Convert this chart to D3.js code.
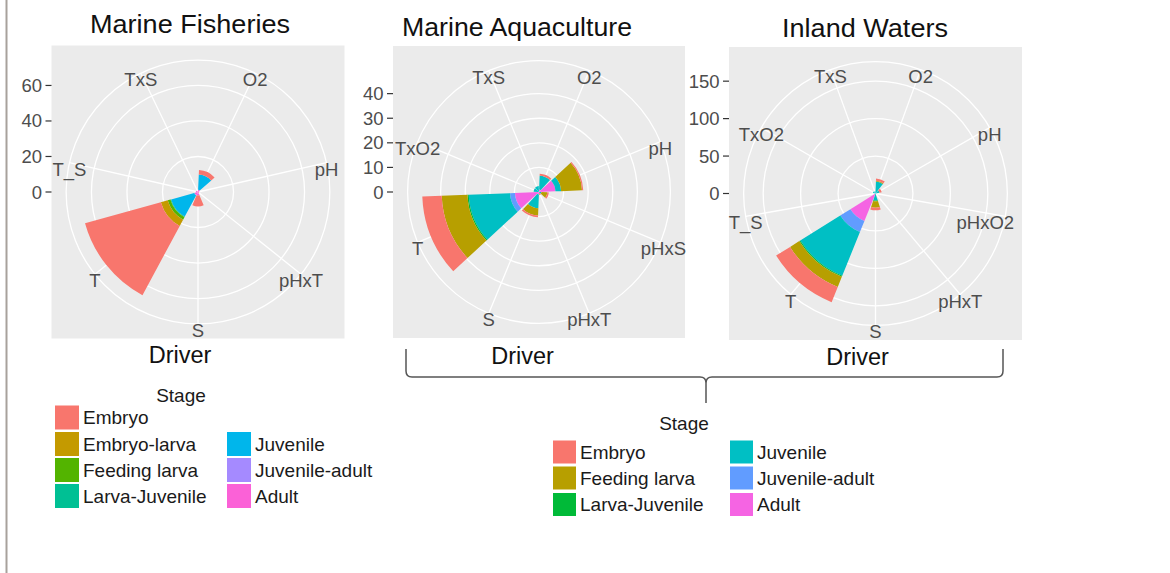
<!DOCTYPE html>
<html>
<head>
<meta charset="utf-8">
<script src="https://cdn.jsdelivr.net/npm/d3@7"></script>
<style>
  body { margin: 0; background: #ffffff; }
  svg { display: block; font-family: "Liberation Sans", Arial, Helvetica, sans-serif; }
</style>
</head>
<body>
<svg id="chart" width="1170" height="573"></svg>
<script>
// ---- life stages and their colours ----
const fisheriesStages = ["Embryo", "Embryo-larva", "Feeding larva", "Larva-Juvenile", "Juvenile", "Juvenile-adult", "Adult"];
const fisheriesColours = ["#F8766D", "#C49A00", "#53B400", "#00C094", "#00B6EB", "#A58AFF", "#FB61D7"];
const sharedStages = ["Embryo", "Feeding larva", "Larva-Juvenile", "Juvenile", "Juvenile-adult", "Adult"];
const sharedColours = ["#F8766D", "#B79F00", "#00BA38", "#00BFC4", "#619CFF", "#F564E3"];

// ---- Marine Fisheries: rows follow fisheriesStages, columns follow the drivers ----
const fisheriesDrivers = ["O2", "pH", "pHxT", "S", "T", "T_S", "TxS"];
const fisheriesValues = [
  [2.5, 0,   0.6, 6.2, 44.3, 0,   0  ],  // Embryo
  [0,   0,   0,   0,   4.0,  0,   0  ],  // Embryo-larva
  [0,   0,   0,   0,   1.6,  0,   0  ],  // Feeding larva
  [0,   0,   0,   0,   0.4,  0,   0  ],  // Larva-Juvenile
  [8.6, 0,   0,   0,   13.5, 0,   0  ],  // Juvenile
  [0,   0,   0,   0,   0.2,  0,   0  ],  // Juvenile-adult
  [1.3, 0.8, 0,   1.9, 2.0,  1.2, 0.6]   // Adult
];
const fisheriesTicks = [0, 20, 40, 60];

// ---- Marine Aquaculture: rows follow sharedStages ----
const aquacultureDrivers = ["O2", "pH", "pHxS", "pHxT", "S", "T", "TxO2", "TxS"];
const aquacultureValues = [
  [0.8, 0.5, 0.6, 0.6, 0.7, 7.9,  0,   0  ],  // Embryo
  [0,   8.5, 2.4, 0,   3.0, 10.5, 0,   0  ],  // Feeding larva
  [0,   0,   0,   0,   0,   0.5,  0,   0  ],  // Larva-Juvenile
  [5.6, 2.3, 1.0, 0.6, 5.6, 16.8, 2.2, 2.4],  // Juvenile
  [0,   0,   0,   0,   0,   2.0,  0,   0  ],  // Juvenile-adult
  [1.0, 6.7, 0,   0,   1.0, 9.8,  0,   0  ]   // Adult
];
const aquacultureTicks = [0, 10, 20, 30, 40];

// ---- Inland Waters: rows follow sharedStages ----
const inlandDrivers = ["O2", "pH", "pHxO2", "pHxT", "S", "T", "T_S", "TxO2", "TxS"];
const inlandValues = [
  [3.0,  3.0, 0, 0, 3.5, 22.0, 0, 0,   0  ],  // Embryo
  [1.2,  0,   0, 0, 8.5, 14.5, 0, 0,   0  ],  // Feeding larva
  [0,    0,   0, 0, 1.0, 1.5,  0, 0,   0  ],  // Larva-Juvenile
  [16.0, 5.5, 0, 0, 9.5, 63.0, 0, 3.5, 3.0],  // Juvenile
  [0,    0,   0, 0, 0,   16.0, 0, 0,   0  ],  // Juvenile-adult
  [0,    0,   0, 0, 0,   39.5, 0, 0,   0  ]   // Adult
];
const inlandTicks = [0, 50, 100, 150];

const svg = d3.select("#chart");
svg.append("rect").attr("width", 1170).attr("height", 573).attr("fill", "#ffffff");
svg.append("line")
  .attr("x1", 6.5).attr("x2", 6.5).attr("y1", 0).attr("y2", 573)
  .attr("stroke", "#a8a19c").attr("stroke-width", 2);

// One polar stacked-bar panel (coord_polar style: theta = driver, r = count)
function drawPanel(cfg) {
  const g = svg.append("g");
  const half = cfg.size / 2;
  const x0 = cfg.cx - half, y0 = cfg.cy - half;
  const nudge = cfg.labelNudge || {};

  const table = cfg.drivers.map((d, j) => {
    const row = { driver: d };
    cfg.stages.forEach((s, i) => { row[s] = cfg.values[i][j]; });
    return row;
  });
  const total = d3.max(table, row => d3.sum(cfg.stages, s => row[s]));

  const theta = d3.scaleBand()
    .domain(cfg.drivers)
    .range([0, 2 * Math.PI])
    .paddingInner(0.1)
    .paddingOuter(0.05);
  const r = d3.scaleLinear().domain([0, total]).range([0, 0.4 * cfg.size]);
  const colour = d3.scaleOrdinal().domain(cfg.stages).range(cfg.colours);
  const rOuter = 0.45 * cfg.size;
  const mid = d => theta(d) + theta.bandwidth() / 2;

  // panel background
  g.append("rect")
    .attr("x", x0).attr("y", y0)
    .attr("width", cfg.size).attr("height", cfg.size)
    .attr("fill", "#EBEBEB");

  const plot = g.append("g").attr("transform", `translate(${cfg.cx},${cfg.cy})`);

  // radial grid: one spoke per driver
  plot.selectAll("line.spoke")
    .data(cfg.drivers)
    .join("line")
    .attr("class", "spoke")
    .attr("x1", 0).attr("y1", 0)
    .attr("x2", d => rOuter * Math.sin(mid(d)))
    .attr("y2", d => -rOuter * Math.cos(mid(d)))
    .attr("stroke", "#ffffff").attr("stroke-width", 1.3);

  // circular grid at each tick plus the outer ring
  plot.selectAll("circle.ring")
    .data(cfg.ticks.filter(t => t > 0).map(t => r(t)).concat([rOuter]))
    .join("circle")
    .attr("class", "ring")
    .attr("r", d => d)
    .attr("fill", "none")
    .attr("stroke", "#ffffff").attr("stroke-width", 1.3);

  // stacked wedges: the first stage sits on the outside
  const series = d3.stack().keys(cfg.stages.slice().reverse())(table);
  const arc = d3.arc();
  plot.selectAll("g.layer")
    .data(series)
    .join("g")
    .attr("class", "layer")
    .attr("fill", s => colour(s.key))
    .selectAll("path")
    .data(s => s.filter(p => p[1] > p[0]))
    .join("path")
    .attr("d", p => arc({
      innerRadius: r(p[0]),
      outerRadius: r(p[1]),
      startAngle: theta(p.data.driver),
      endAngle: theta(p.data.driver) + theta.bandwidth()
    }));

  // driver labels around the rim
  plot.selectAll("text.driver")
    .data(cfg.drivers)
    .join("text")
    .attr("class", "driver")
    .attr("x", d => rOuter * Math.sin(mid(d)) + (nudge[d] || 0))
    .attr("y", d => -rOuter * Math.cos(mid(d)) + 6.5)
    .attr("text-anchor", "middle")
    .attr("dominant-baseline", "central")
    .attr("font-size", 18.5)
    .attr("fill", "#4D4D4D")
    .text(d => d);

  // radial axis on the left edge
  const axis = g.append("g");
  axis.selectAll("line")
    .data(cfg.ticks)
    .join("line")
    .attr("x1", x0 - 6).attr("x2", x0)
    .attr("y1", t => cfg.cy - r(t)).attr("y2", t => cfg.cy - r(t))
    .attr("stroke", "#333333").attr("stroke-width", 1.2);
  axis.selectAll("text")
    .data(cfg.ticks)
    .join("text")
    .attr("x", x0 - 9.5)
    .attr("y", t => cfg.cy - r(t))
    .attr("text-anchor", "end")
    .attr("dominant-baseline", "central")
    .attr("font-size", 18.5)
    .attr("fill", "#4D4D4D")
    .text(t => t);

  // panel title and axis title
  g.append("text")
    .attr("x", cfg.titleX).attr("y", cfg.titleY)
    .attr("text-anchor", "middle")
    .attr("font-size", 26)
    .attr("textLength", cfg.titleLen)
    .attr("lengthAdjust", "spacingAndGlyphs")
    .attr("fill", "#111111")
    .text(cfg.title);
  g.append("text")
    .attr("x", cfg.driverX).attr("y", cfg.driverY)
    .attr("text-anchor", "middle")
    .attr("font-size", 23.5)
    .attr("fill", "#111111")
    .text("Driver");
}

drawPanel({
  title: "Marine Fisheries", titleX: 190, titleY: 33, titleLen: 200,
  driverX: 180, driverY: 363,
  cx: 198, cy: 192, size: 293,
  drivers: fisheriesDrivers, stages: fisheriesStages, colours: fisheriesColours,
  values: fisheriesValues, ticks: fisheriesTicks
});
drawPanel({
  title: "Marine Aquaculture", titleX: 517, titleY: 36, titleLen: 230,
  driverX: 522.5, driverY: 364,
  cx: 539, cy: 192, size: 292,
  drivers: aquacultureDrivers, stages: sharedStages, colours: sharedColours,
  values: aquacultureValues, ticks: aquacultureTicks,
  labelNudge: { pHxS: 3 }
});
drawPanel({
  title: "Inland Waters", titleX: 865, titleY: 37, titleLen: 166,
  driverX: 857.5, driverY: 365,
  cx: 875.5, cy: 193.5, size: 293,
  drivers: inlandDrivers, stages: sharedStages, colours: sharedColours,
  values: inlandValues, ticks: inlandTicks,
  labelNudge: { pHxO2: -20 }
});

// brace grouping the two right-hand panels
svg.append("path")
  .attr("d", "M406,349 L406,371 Q406,377 412,377 L700,377 Q706,377 706,383 L706,403 " +
             "M706,383 Q706,377 712,377 L997,377 Q1003,377 1003,371 L1003,349")
  .attr("fill", "none")
  .attr("stroke", "#555555")
  .attr("stroke-width", 1.5);

// legends
function drawLegend(cfg) {
  const g = svg.append("g");
  g.append("text")
    .attr("x", cfg.titleX).attr("y", cfg.titleY)
    .attr("text-anchor", "middle")
    .attr("dominant-baseline", "central")
    .attr("font-size", 19)
    .attr("fill", "#1a1a1a")
    .text("Stage");
  const items = g.selectAll("g.item")
    .data(cfg.stages.map((s, i) => ({ stage: s, colour: cfg.colours[i], slot: cfg.slots[i] })))
    .join("g")
    .attr("class", "item")
    .attr("transform", d => `translate(${cfg.colX[d.slot[0]]},${cfg.rowY[d.slot[1]]})`);
  items.append("rect")
    .attr("x", 0).attr("y", -cfg.key / 2)
    .attr("width", cfg.key).attr("height", cfg.key)
    .attr("fill", d => d.colour);
  items.append("text")
    .attr("x", cfg.key + 4).attr("y", 0)
    .attr("dominant-baseline", "central")
    .attr("font-size", 19)
    .attr("fill", "#1a1a1a")
    .text(d => d.stage);
}

drawLegend({
  titleX: 181, titleY: 395, key: 24,
  stages: fisheriesStages, colours: fisheriesColours,
  colX: [55, 227], rowY: [417.5, 444, 470, 496],
  slots: [[0, 0], [0, 1], [0, 2], [0, 3], [1, 1], [1, 2], [1, 3]]
});
drawLegend({
  titleX: 684, titleY: 423, key: 23,
  stages: sharedStages, colours: sharedColours,
  colX: [553, 730], rowY: [452, 478, 504.5],
  slots: [[0, 0], [0, 1], [0, 2], [1, 0], [1, 1], [1, 2]]
});
</script>
</body>
</html>
